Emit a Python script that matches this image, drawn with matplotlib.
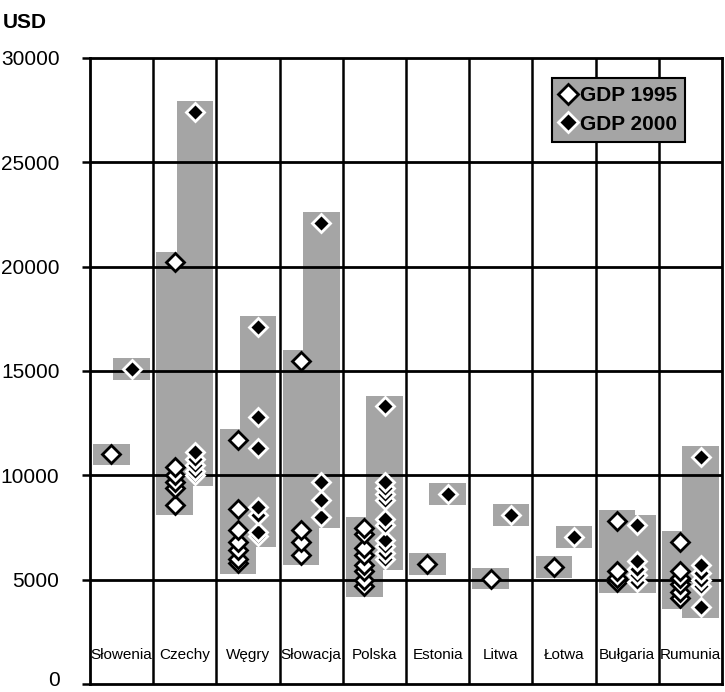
import matplotlib
matplotlib.use("Agg")
import matplotlib.pyplot as plt
import matplotlib.transforms as mtransforms
from matplotlib.lines import Line2D

plt.rcParams['font.family'] = ['Liberation Sans', 'DejaVu Sans']

countries = ['Słowenia', 'Czechy', 'Węgry', 'Słowacja', 'Polska',
             'Estonia', 'Litwa', 'Łotwa', 'Bułgaria', 'Rumunia']

slowenia_1995 = [11000]
czechy_1995 = [20200, 10400, 10000, 9700, 9400, 8600]
wegry_1995 = [11700, 8400, 7400, 6800, 6400, 6000, 5800]
slowacja_1995 = [15500, 7400, 6800, 6200]
polska_1995 = [7500, 7200, 6500, 6200, 5700, 5400, 5000, 4700]
estonia_1995 = [5750]
litwa_1995 = [5050]
lotwa_1995 = [5600]
bulgaria_1995 = [7800, 5400, 5100, 4900]
rumunia_1995 = [6800, 5400, 5100, 4800, 4400, 4100]

slowenia_2000 = [15100]
czechy_2000 = [27400, 11100, 10800, 10500, 10200, 10000]
wegry_2000 = [17100, 12800, 11300, 8500, 8100, 7300, 7100]
slowacja_2000 = [22100, 9700, 8800, 8000]
polska_2000 = [13300, 9700, 9400, 9100, 8800, 7900, 7600, 6900, 6600, 6300, 6000]
estonia_2000 = [9100]
litwa_2000 = [8100]
lotwa_2000 = [7050]
bulgaria_2000 = [7600, 5900, 5500, 5200, 4900]
rumunia_2000 = [10900, 5700, 5300, 5000, 4700, 3700]

gdp_1995 = [slowenia_1995, czechy_1995, wegry_1995, slowacja_1995, polska_1995,
            estonia_1995, litwa_1995, lotwa_1995, bulgaria_1995, rumunia_1995]
gdp_2000 = [slowenia_2000, czechy_2000, wegry_2000, slowacja_2000, polska_2000,
            estonia_2000, litwa_2000, lotwa_2000, bulgaria_2000, rumunia_2000]

yticks = [0, 5000, 10000, 15000, 20000, 25000, 30000]

PAD = 520
OFF = 0.16
W = 0.58
GRAY = '#a5a5a5'

fig = plt.figure(figsize=(7.25, 6.92), dpi=100)
ax = fig.add_axes([90/725, 8/692, 632/725, 626/692])

for i, (a, b) in enumerate(zip(gdp_1995, gdp_2000)):
    for vals, off in ((a, -OFF), (b, OFF)):
        lo, hi = min(vals) - PAD, max(vals) + PAD
        ax.bar(i + off, hi - lo, bottom=lo, width=W, color=GRAY, zorder=1, linewidth=0)

for i, (a, b) in enumerate(zip(gdp_1995, gdp_2000)):
    for v in sorted(a):
        ax.plot(i - OFF, v, marker='D', ms=9.0, mfc='white', mec='black', mew=2.0,
                ls='none', zorder=4)
    for v in sorted(b):
        ax.plot(i + OFF, v, marker='D', ms=9.0, mfc='black', mec='white', mew=2.0,
                ls='none', zorder=5)

# grid
for y in yticks[1:-1]:
    ax.axhline(y, color='black', lw=2.0, zorder=3)
for i in range(len(countries) - 1):
    ax.axvline(i + 0.5, color='black', lw=1.8, zorder=3)

for i, c in enumerate(countries):
    ax.text(i, 1400, c, ha='center', va='center', fontsize=11, zorder=6)

ax.set_xlim(-0.5, len(countries) - 0.5)
ax.set_ylim(0, 30000)
ax.set_yticks(yticks)
ax.set_yticklabels([str(t) for t in yticks], fontsize=15)
ax.set_xticks([])
ax.tick_params(axis='y', direction='out', length=6, width=1.8, pad=16)
for s in ax.spines.values():
    s.set_linewidth(2.0)
    s.set_zorder(6)

# lift the "0" label slightly so it stays inside the picture
zero_lbl = ax.get_yticklabels()[0]
zero_lbl.set_transform(zero_lbl.get_transform() +
                       mtransforms.ScaledTranslation(0, 6/100, fig.dpi_scale_trans))

handles = [Line2D([], [], marker='D', ms=10, mfc='white', mec='black', mew=2, ls='none'),
           Line2D([], [], marker='D', ms=10, mfc='black', mec='white', mew=2, ls='none')]
leg = ax.legend(handles, ['GDP 1995', 'GDP 2000'], loc='upper right',
                bbox_to_anchor=(0.942, 0.968), frameon=True, fancybox=False,
                facecolor=GRAY, edgecolor='black', framealpha=1,
                prop={'weight': 'bold', 'size': 15}, handlelength=0.8,
                handletextpad=0.15, borderpad=0.4, labelspacing=0.45, borderaxespad=0)
leg.get_frame().set_linewidth(1.5)
leg.set_zorder(7)

fig.text(3/725, 1 - 22/692, 'USD', fontsize=15, fontweight='bold', ha='left', va='center')

fig.savefig('out.png', dpi=100)
